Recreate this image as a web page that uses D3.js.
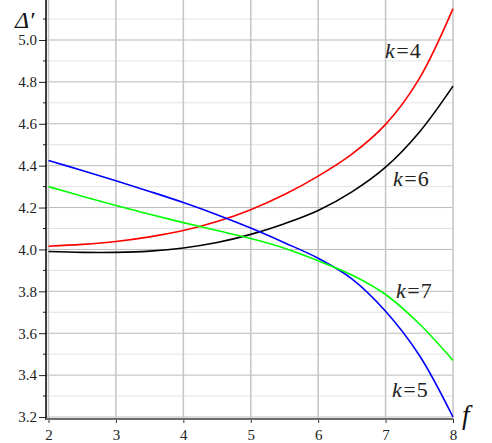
<!DOCTYPE html>
<html>
<head>
<meta charset="utf-8">
<script src="https://cdn.jsdelivr.net/npm/d3@7"></script>
<style>
  body { margin: 0; background: #ffffff; }
</style>
</head>
<body>
<script>
// values
var fValues = [2, 2.5, 3, 3.5, 4, 4.5, 5, 5.5, 6, 6.5, 7, 7.5, 8];
var k4 = [4.015, 4.024, 4.038, 4.06, 4.09, 4.133, 4.19, 4.262, 4.35, 4.455, 4.597, 4.816, 5.15];
var k6 = [3.99, 3.986, 3.986, 3.992, 4.007, 4.033, 4.072, 4.123, 4.186, 4.275, 4.393, 4.56, 4.78];
var k5 = [4.425, 4.377, 4.328, 4.277, 4.224, 4.166, 4.102, 4.032, 3.958, 3.86, 3.705, 3.495, 3.20];
var k7 = [4.30, 4.254, 4.21, 4.168, 4.128, 4.09, 4.052, 4.006, 3.946, 3.878, 3.785, 3.645, 3.47];
var xTicks = [2, 3, 4, 5, 6, 7, 8];
var yTicks = [3.2, 3.4, 3.6, 3.8, 4.0, 4.2, 4.4, 4.6, 4.8, 5.0];
var yMinor = [3.3, 3.5, 3.7, 3.9, 4.1, 4.3, 4.5, 4.7, 4.9, 5.1];

var series = [
	{name: "4", values: k4, color: "#ff0000", lx: 385, ly: 58},
	{name: "6", values: k6, color: "#000000", lx: 393, ly: 186},
	{name: "5", values: k5, color: "#0000ff", lx: 392, ly: 397},
	{name: "7", values: k7, color: "#00ff00", lx: 396, ly: 298}
];

var serif = "'Liberation Serif', 'Times New Roman', Times, 'DejaVu Serif', serif";
var width = 492, height = 443;
var svg = d3.select("body").append("svg").attr("width", width).attr("height", height)
	.style("font-family", serif);

var x = d3.scaleLinear().domain([2, 8]).range([48.5, 453]);
var y = d3.scaleLinear().domain([3.2, 5.0]).range([417, 40]);
var axisX = 46, axisY = 419;

svg.append("clipPath").attr("id", "plot")
	.append("rect").attr("x", axisX).attr("y", 0).attr("width", 453 - axisX + 1).attr("height", axisY);

// grid
var grid = svg.append("g");
grid.selectAll("line.minor").data(yMinor.filter(function(d) { return y(d) > 0; })).enter().append("line")
	.attr("x1", axisX).attr("x2", x(8))
	.attr("y1", function(d) { return y(d); }).attr("y2", function(d) { return y(d); })
	.attr("stroke", "#e2e2e2").attr("stroke-width", 1);
grid.selectAll("line.major").data(yTicks).enter().append("line")
	.attr("x1", axisX).attr("x2", x(8))
	.attr("y1", function(d) { return y(d); }).attr("y2", function(d) { return y(d); })
	.attr("stroke", "#b9b9b9").attr("stroke-width", 1);
grid.selectAll("line.vert").data(xTicks).enter().append("line")
	.attr("x1", function(d) { return x(d); }).attr("x2", function(d) { return x(d); })
	.attr("y1", 0).attr("y2", axisY)
	.attr("stroke", "#c4c4c4").attr("stroke-width", 1.5);

// curves
var line = d3.line()
	.x(function(d, i) { return x(fValues[i]); })
	.y(function(d) { return y(d); })
	.curve(d3.curveCatmullRom.alpha(0.5));

svg.append("g").attr("clip-path", "url(#plot)")
	.selectAll("path").data(series).enter().append("path")
	.attr("d", function(s) { return line(s.values); })
	.attr("fill", "none")
	.attr("stroke", function(s) { return s.color; })
	.attr("stroke-width", 1.6);

// y axis
var yAxis = d3.axisLeft(y).tickValues(yTicks).tickSize(7).tickPadding(2)
	.tickFormat(d3.format(".1f"));
var gy = svg.append("g").attr("transform", "translate(" + axisX + ",0)").call(yAxis);
gy.attr("font-family", serif);
gy.select(".domain").remove();
gy.selectAll(".tick line").attr("stroke", "#222");
gy.selectAll(".tick text").attr("font-size", 15).attr("fill", "#222");
gy.selectAll("line.minor").data(yMinor.filter(function(d) { return y(d) > 0; })).enter().append("line")
	.attr("x1", -3).attr("x2", 0)
	.attr("y1", function(d) { return y(d); }).attr("y2", function(d) { return y(d); })
	.attr("stroke", "#222");
svg.append("line").attr("x1", axisX).attr("x2", axisX).attr("y1", 0).attr("y2", axisY + 1)
	.attr("stroke", "#000").attr("stroke-width", 1.5);

// x axis
var xAxis = d3.axisBottom(x).tickValues(xTicks).tickSize(4).tickPadding(6).tickFormat(d3.format("d"));
var gx = svg.append("g").attr("transform", "translate(0," + axisY + ")").call(xAxis);
gx.attr("font-family", serif);
gx.select(".domain").remove();
gx.selectAll(".tick line").attr("stroke", "#333");
gx.selectAll(".tick text").attr("font-size", 15).attr("fill", "#222");
svg.append("line").attr("x1", axisX).attr("x2", x(8)).attr("y1", axisY).attr("y2", axisY)
	.attr("stroke", "#6e6e6e").attr("stroke-width", 2);

// axis titles
svg.append("text").attr("x", 15).attr("y", 28)
	.attr("font-size", 24).attr("font-style", "italic").attr("fill", "#111").text("\u0394\u2032");
svg.append("text").attr("x", 462).attr("y", 424)
	.attr("font-size", 27).attr("font-style", "italic").attr("fill", "#111").text("f");

// curve labels
series.forEach(function(s) {
	var t = svg.append("text").attr("x", s.lx).attr("y", s.ly)
		.attr("font-size", 22).attr("fill", "#222");
	t.append("tspan").attr("font-style", "italic").text("k");
	t.append("tspan").attr("dx", 1.5).text("=");
	t.append("tspan").attr("dx", 1).text(s.name);
});
</script>
</body>
</html>
